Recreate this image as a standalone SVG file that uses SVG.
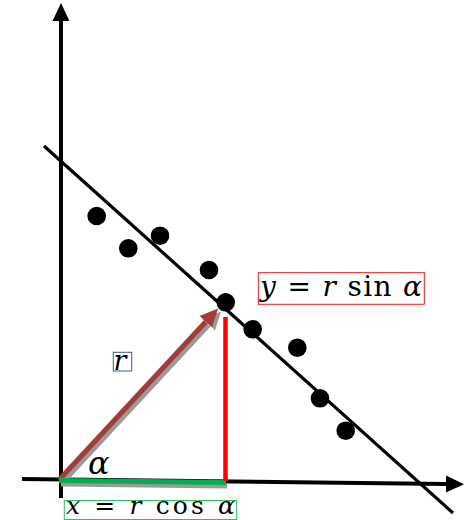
<svg xmlns="http://www.w3.org/2000/svg" width="474" height="520" viewBox="0 0 474 520">
<style>
.axis{stroke:#000;stroke-width:4;fill:none}
.fit{stroke:#000;stroke-width:3.2;fill:none}
.dot{fill:#000}
.shadow{stroke:#9a9a9a;fill:none}
.math{font-family:"DejaVu Serif","Liberation Serif",serif;fill:#000}
.it{font-style:italic}
</style>
<defs>
<marker id="ah" markerUnits="userSpaceOnUse" markerWidth="18" markerHeight="18" viewBox="0 0 17 16" refX="0" refY="8" orient="auto">
<path d="M0,0 L17,8 L0,16 z" fill="#000"/>
</marker>
<marker id="ahr" markerUnits="userSpaceOnUse" markerWidth="18" markerHeight="18" viewBox="0 0 17 16" refX="0" refY="8" orient="auto">
<path d="M0,0 L17,8 L0,16 z" fill="#a33b38"/>
</marker>
<marker id="ahs" markerUnits="userSpaceOnUse" markerWidth="18" markerHeight="18" viewBox="0 0 17 16" refX="0" refY="8" orient="auto">
<path d="M0,0 L17,8 L0,16 z" fill="#9a9a9a"/>
</marker>
</defs>
<rect width="474" height="520" fill="#fff"/>
<g id="connectors">
<line id="y-axis" class="axis" x1="61" y1="498" x2="61" y2="21" marker-end="url(#ah)"/>
<line id="x-axis" class="axis" x1="22" y1="479" x2="446" y2="484" marker-end="url(#ah)"/>
<line id="fit-line" class="fit" x1="44" y1="146" x2="453" y2="513"/>
<line id="r-shadow" class="shadow" stroke-width="5" x1="62" y1="483" x2="208.8" y2="324.7" marker-end="url(#ahs)"/>
<line id="r-vector" stroke="#a33b38" stroke-width="5" x1="59" y1="480" x2="205.8" y2="321.7" marker-end="url(#ahr)"/>
<line id="cos-shadow" class="shadow" stroke-width="5" x1="61" y1="484" x2="227" y2="486"/>
<line id="cos-line" stroke="#00b050" stroke-width="5" x1="59" y1="480.5" x2="226" y2="482.5"/>
<line id="sin-line" stroke="#ff0000" stroke-width="4.5" x1="225.5" y1="317" x2="225.5" y2="481"/>
</g>
<g id="points">
<circle class="dot" cx="96.7" cy="216" r="9.3"/>
<circle class="dot" cx="128.3" cy="248.3" r="9.3"/>
<circle class="dot" cx="160" cy="235.7" r="9.3"/>
<circle class="dot" cx="209" cy="270" r="9.3"/>
<circle class="dot" cx="225.7" cy="302.3" r="9.3"/>
<circle class="dot" cx="252.7" cy="329.3" r="9.3"/>
<circle class="dot" cx="297.3" cy="347.7" r="9.3"/>
<circle class="dot" cx="320" cy="398.3" r="9.3"/>
<circle class="dot" cx="345.7" cy="430.7" r="9.3"/>
</g>
<g id="label-r">
<rect x="113.3" y="352.3" width="18.4" height="18.7" fill="#fff" stroke="#3d5a8c" stroke-width="1"/>
<text class="math it" x="113.5" y="370" font-size="27">r</text>
</g>
<g id="label-alpha">
<text class="math it" x="88" y="474" font-size="32">α</text>
</g>
<g id="label-sin">
<rect x="258.3" y="272.7" width="166" height="31.6" fill="none" stroke="#e02020" stroke-width="1"/>
<text class="math" x="260" y="296" font-size="28" textLength="162" lengthAdjust="spacing"><tspan class="it">y</tspan> = <tspan class="it">r</tspan> sin <tspan class="it">α</tspan></text>
</g>
<g id="label-cos">
<rect x="64.3" y="500.5" width="172.4" height="19" fill="none" stroke="#33bb66" stroke-width="1"/>
<text class="math" x="66" y="514" font-size="25" textLength="169" lengthAdjust="spacing"><tspan class="it">x</tspan> = <tspan class="it">r</tspan> cos <tspan class="it">α</tspan></text>
</g>
</svg>
